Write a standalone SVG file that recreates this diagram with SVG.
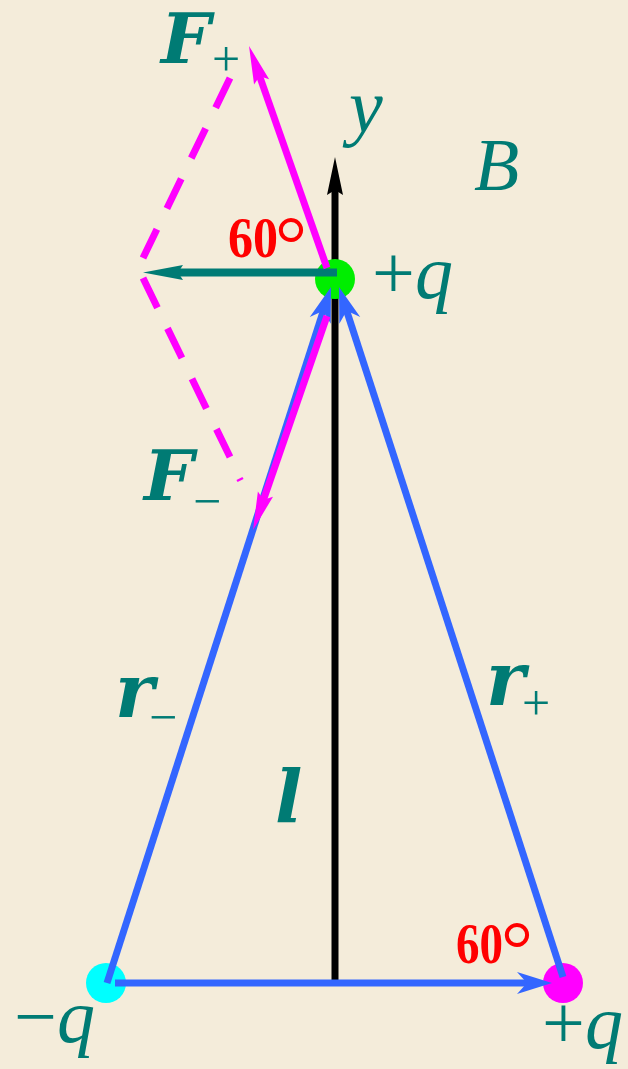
<svg xmlns="http://www.w3.org/2000/svg" width="628" height="1069" viewBox="0 0 628 1069">
<defs>
<style>
.bl{stroke:#3366FF;stroke-width:7;fill:none}
.mg{stroke:#FF00FF;stroke-width:7;fill:none}
.dash{stroke:#FF00FF;stroke-width:7;fill:none;stroke-dasharray:33 23}
.bi{font-family:"DejaVu Serif",serif;font-weight:bold;font-style:italic;fill:#007B74}
.it{font-family:"Liberation Serif",serif;font-style:italic;fill:#007B74}
.rm{font-family:"Liberation Serif",serif;font-style:normal;font-weight:normal;fill:#007B74}
.red{font-family:"Liberation Serif",serif;font-weight:bold;fill:#FF0000}
.deg{font-weight:normal}
</style>
<marker id="bh" markerUnits="userSpaceOnUse" markerWidth="50" markerHeight="30" viewBox="-25 -15 50 30" refX="0" refY="0" orient="auto" overflow="visible">
<path d="M15,0 L-20,-11 L-10,0 L-20,11 Z" fill="#3366FF"/>
</marker>
<marker id="mh" markerUnits="userSpaceOnUse" markerWidth="50" markerHeight="30" viewBox="-25 -15 50 30" refX="0" refY="0" orient="auto" overflow="visible">
<path d="M25,0 L-13,-8 L-7,0 L-13,8 Z" fill="#FF00FF"/>
</marker>
</defs>
<rect x="0" y="0" width="628" height="1069" fill="#F4ECDA"/>

<g id="axis-y">
<line x1="335" y1="980" x2="335" y2="188" stroke="#000" stroke-width="7"/>
<path d="M335,157 L343,195 L335,190 L327,195 Z" fill="#000"/>
</g>

<g id="charge-top">
<circle cx="335" cy="279" r="20" fill="#00EE00"/>
</g>
<g id="charge-left">
<circle cx="106" cy="983" r="20" fill="#00FFFF"/>
</g>
<g id="charge-right">
<circle cx="563" cy="983" r="20" fill="#FF00FF"/>
</g>

<g id="connectors">
<line class="bl" x1="115" y1="983" x2="537" y2="983" marker-end="url(#bh)"/>
<line class="bl" x1="107" y1="983" x2="326.4" y2="301.3" marker-end="url(#bh)"/>
<line class="bl" x1="563" y1="977" x2="343.6" y2="301.3" marker-end="url(#bh)"/>
<line x1="337" y1="272.5" x2="176" y2="272.5" stroke="#007B74" stroke-width="8"/>
<path d="M143,272.5 L183,265 L178,272.5 L183,280 Z" fill="#007B74"/>
<line class="mg" x1="327" y1="268" x2="257.3" y2="69.6" marker-end="url(#mh)"/>
<line class="mg" x1="327" y1="316" x2="261.2" y2="506.4" marker-end="url(#mh)"/>
<line class="dash" x1="230" y1="78" x2="143" y2="258"/>
<line class="dash" x1="143" y1="278" x2="230" y2="457"/>
<line x1="237" y1="481" x2="243" y2="478" stroke="#FF00FF" stroke-width="2.5"/>
</g>

<g id="labels">
<text font-size="70"><tspan class="bi" x="161" y="63">F</tspan><tspan class="rm" x="212" y="76" font-size="50">+</tspan></text>
<text font-size="70"><tspan class="bi" x="144" y="500">F</tspan><tspan class="rm" x="193" y="518" font-size="50">−</tspan></text>
<text class="it" x="349" y="132" font-size="76">y</text>
<text class="it" x="474" y="190" font-size="74">B</text>
<text x="372" y="298" font-size="76"><tspan class="rm">+</tspan><tspan class="it">q</tspan></text>
<text x="14" y="1042" font-size="76"><tspan class="rm">−</tspan><tspan class="it">q</tspan></text>
<text x="542" y="1048" font-size="76"><tspan class="rm">+</tspan><tspan class="it">q</tspan></text>
<text class="red" font-size="58"><tspan x="228" y="257" textLength="50" lengthAdjust="spacingAndGlyphs">60</tspan><tspan class="deg" x="275" y="271" font-size="80">°</tspan></text>
<text class="red" font-size="58"><tspan x="456" y="963" textLength="47" lengthAdjust="spacingAndGlyphs">60</tspan><tspan class="deg" x="501" y="976" font-size="80">°</tspan></text>
<text font-size="74"><tspan class="bi" x="115" y="717">r</tspan><tspan class="rm" x="149" y="734" font-size="50">−</tspan></text>
<text font-size="74"><tspan class="bi" x="486" y="705">r</tspan><tspan class="rm" x="522" y="720" font-size="50">+</tspan></text>
<text class="bi" x="275" y="823" font-size="72">l</text>
</g>
</svg>
